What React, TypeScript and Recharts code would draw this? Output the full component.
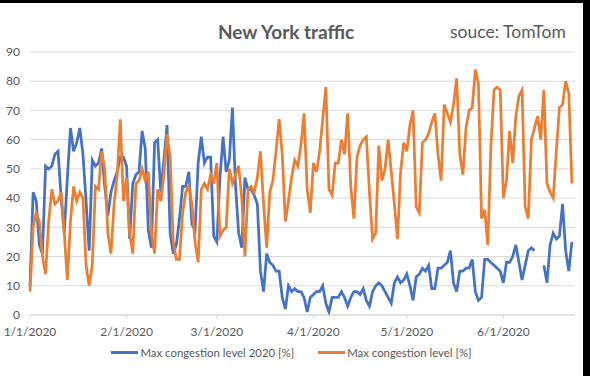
import React from 'react';
import { LineChart, Line, XAxis, YAxis, CartesianGrid, Legend } from 'recharts';

// day 0 = 1/1/2020
const tickDays = [0, 31, 60, 91, 121, 152];
const tickLabels = ['1/1/2020', '2/1/2020', '3/1/2020', '4/1/2020', '5/1/2020', '6/1/2020'];
const yTicks = [0, 10, 20, 30, 40, 50, 60, 70, 80, 90];

const congestion2020 = [
  10, 42, 39, 24, 21, 51, 50, 51, 55, 56,
  40, 28, 47, 64, 56, 59, 64, 55, 39, 22,
  53, 51, 52, 57, 44, 34, 42, 46, 49, 54,
  54, 51, 26, 45, 48, 49, 63, 57, 29, 23,
  59, 60, 42, 53, 65, 28, 21, 24, 33, 44,
  44, 49, 31, 29, 52, 61, 52, 54, 54, 27,
  25, 47, 61, 49, 53, 71, 44, 28, 23, 47,
  43, 43, 41, 38, 15, 8, 21, 18, 17, 15,
  15, 6, 2, 10, 8, 9, 8, 8, 6, 1,
  6, 7, 8, 8, 10, 4, 1, 6, 6, 6,
  8, 6, 3, 6, 8, 8, 7, 9, 5, 3,
  8, 10, 11, 10, 8, 6, 4, 11, 13, 11,
  12, 14, 10, 5, 13, 14, 16, 15, 17, 9,
  9, 16, 16, 17, 18, 22, 11, 8, 15, 15,
  16, 16, 19, 8, 5, 6, 19, 19, 18, 17,
  16, 15, 11, 18, 18, 20, 24, 18, 12, 17,
  22, 23, 22, null, null, 17, 11, 24, 28, 26,
  27, 38, 22, 15, 25,
];

const congestionBaseline = [
  8, 30, 35, 32, 20, 14, 32, 43, 38, 39,
  42, 28, 12, 32, 44, 39, 42, 40, 17, 10,
  17, 44, 43, 56, 50, 28, 21, 38, 48, 67,
  39, 47, 28, 21, 45, 46, 50, 46, 49, 28,
  21, 43, 39, 48, 62, 54, 25, 19, 19, 35,
  42, 44, 38, 25, 18, 43, 45, 43, 48, 45,
  52, 27, 29, 30, 50, 45, 48, 51, 40, 20,
  43, 44, 42, 47, 56, 38, 23, 42, 46, 56,
  67, 55, 32, 39, 47, 53, 51, 58, 69, 43,
  35, 52, 49, 56, 67, 78, 43, 41, 52, 52,
  60, 55, 69, 44, 33, 54, 58, 60, 61, 42,
  26, 28, 58, 46, 50, 60, 49, 38, 26, 49,
  59, 56, 65, 70, 37, 35, 59, 60, 62, 66,
  69, 55, 46, 72, 69, 66, 72, 81, 55, 48,
  64, 70, 71, 84, 79, 33, 36, 24, 58, 77,
  78, 77, 40, 46, 63, 52, 68, 75, 77, 37,
  33, 60, 64, 68, 60, 77, 45, 42, 40, 56,
  71, 72, 80, 76, 45,
];

const data = congestionBaseline.map((v, i) => ({
  day: i,
  y2020: congestion2020[i],
  base: v,
}));

const font = 'Lato, "Open Sans", sans-serif';
const grey = '#595959';

const LegendContent = ({ payload }: any) => (
  <div style={{ display: 'flex', justifyContent: 'center', gap: 24, fontFamily: font, fontSize: 11.4, color: grey }}>
    {(payload || []).map((p: any) => (
      <div key={p.value} style={{ display: 'flex', alignItems: 'center' }}>
        <span style={{ display: 'inline-block', width: 27, height: 3, background: p.color, marginRight: 2 }} />
        <span>{p.value}</span>
      </div>
    ))}
  </div>
);

export default function App() {
  return (
    <div style={{ position: 'absolute', left: 0, top: 0, width: 590, height: 376, background: '#000' }}>
      <div style={{ position: 'absolute', left: 0, top: 3, width: 583, height: 373, background: '#fff' }} />
      <div style={{ position: 'absolute', left: 0, top: 0, width: 590, height: 376 }}>
        <LineChart width={590} height={376} data={data} margin={{ top: 52, right: 15, bottom: 8, left: 8 }}>
          <CartesianGrid vertical={false} stroke="#d9d9d9" />
          <XAxis
            dataKey="day"
            type="number"
            domain={[0, 175]}
            ticks={tickDays}
            tickFormatter={(d: number) => tickLabels[tickDays.indexOf(d)]}
            height={31}
            stroke="#d9d9d9"
            tickSize={4}
            tickMargin={8}
            tick={{ fill: grey, fontSize: 12, fontFamily: font }}
          />
          <YAxis
            domain={[0, 90]}
            ticks={yTicks}
            width={22}
            axisLine={false}
            tickLine={false}
            tickMargin={4}
            tick={{ fill: grey, fontSize: 12, fontFamily: font }}
          />
          <Legend verticalAlign="bottom" height={22} content={<LegendContent />} />
          <Line
            dataKey="y2020"
            name="Max congestion level 2020 [%]"
            stroke="#4472c4"
            strokeWidth={2.75}
            dot={false}
            connectNulls={false}
            isAnimationActive={false}
          />
          <Line
            dataKey="base"
            name="Max congestion level [%]"
            stroke="#ed7d31"
            strokeWidth={2.75}
            dot={false}
            isAnimationActive={false}
          />
        </LineChart>
      </div>
      <div style={{ position: 'absolute', left: 218, top: 20, fontFamily: font, fontWeight: 'bold', fontSize: 19, color: grey }}>
        New York traffic
      </div>
      <div style={{ position: 'absolute', left: 450, top: 21, fontFamily: font, fontSize: 17.5, color: grey }}>
        souce: TomTom
      </div>
    </div>
  );
}
